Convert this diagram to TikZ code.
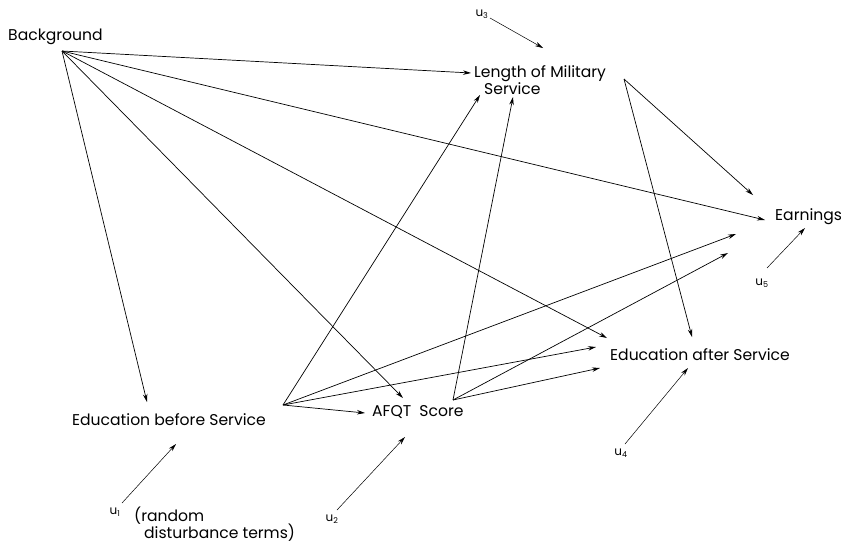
\documentclass[tikz,border=0pt]{standalone}
\usepackage{fontspec}
\setmainfont{Poppins}
\usetikzlibrary{arrows.meta}

\begin{document}
\begin{tikzpicture}[
    x=1pt, y=-1pt,
    var/.style={anchor=west, inner sep=0pt, font=\fontsize{15.6}{17}\selectfont},
    err/.style={inner sep=0pt, font=\fontsize{12}{13}\selectfont},
    arr/.style={-{Stealth[length=8pt, width=4.5pt]}, line width=0.7pt},
  ]

  \useasboundingbox (0,0) rectangle (841,547);

  % Variables
  \node[var] (bg) at (8,37) {Background};
  \node[var, align=left] (lms) at (474,80) {Length of Military\\\hspace{10pt}Service};
  \node[var] (earn) at (775,217) {Earnings};
  \node[var] (eas) at (610,355) {Education after Service};
  \node[var] (ebs) at (72,420) {Education before Service};
  \node[var] (afqt) at (372,412) {AFQT\hspace{4pt} Score};

  % Tails of the paths
  \coordinate (bg-o) at (62,51);
  \coordinate (ebs-o) at (283,405);
  \coordinate (afqt-o) at (453,400);
  \coordinate (lms-o) at (624,79);

  % Disturbance terms
  \node[err] (u3) at (482,14) {u\textsubscript{3}};
  \node[err] (u5) at (762,283) {u\textsubscript{5}};
  \node[err] (u4) at (621,453) {u\textsubscript{4}};
  \node[err] (u1) at (115,512) {u\textsubscript{1}};
  \node[err] (u2) at (332,519) {u\textsubscript{2}};
  \node[var, align=left] (note) at (134,524)
    {(random\\[-1pt]\hspace{10pt}disturbance terms)};

  % Paths from Background
  \draw[arr] (bg-o) -- ([shift={(-3,-7)}]lms.west);
  \draw[arr] (bg-o) -- ([shift={(-10,3)}]earn.west);
  \draw[arr] (bg-o) -- ([shift={(-3,-17)}]eas.west);
  \draw[arr] (bg-o) -- ([shift={(31,-14)}]afqt.west);
  \draw[arr] (bg-o) -- ([shift={(75,-18)}]ebs.west);

  % Paths from Education before Service
  \draw[arr] (ebs-o) -- ([shift={(-7,1)}]afqt.west);
  \draw[arr] (ebs-o) -- ([shift={(6,15)}]lms.west);
  \draw[arr] (ebs-o) -- ([shift={(-14,-8)}]eas.west);
  \draw[arr] (ebs-o) -- ([shift={(-39,17)}]earn.west);

  % Paths from AFQT Score
  \draw[arr] (afqt-o) -- ([shift={(39,17)}]lms.west);
  \draw[arr] (afqt-o) -- ([shift={(-10,13)}]eas.west);
  \draw[arr] (afqt-o) -- ([shift={(-47,36)}]earn.west);

  % Paths from Length of Military Service
  \draw[arr] (lms-o) -- ([shift={(-22,-22)}]earn.west);
  \draw[arr] (lms-o) -- ([shift={(82,-18)}]eas.west);

  % Disturbances
  \draw[arr, line width=0.5pt] ([shift={(8,4)}]u3.center) -- ([shift={(69,-32)}]lms.west);
  \draw[arr, line width=0.5pt] ([shift={(5,-15)}]u5.center) -- ([shift={(30,11)}]earn.west);
  \draw[arr, line width=0.5pt] ([shift={(4,-9)}]u4.center) -- ([shift={(78,13)}]eas.west);
  \draw[arr, line width=0.5pt] ([shift={(7,-9)}]u1.center) -- ([shift={(104,24)}]ebs.west);
  \draw[arr, line width=0.5pt] ([shift={(5,-9)}]u2.center) -- ([shift={(33,25)}]afqt.west);

\end{tikzpicture}
\end{document}
